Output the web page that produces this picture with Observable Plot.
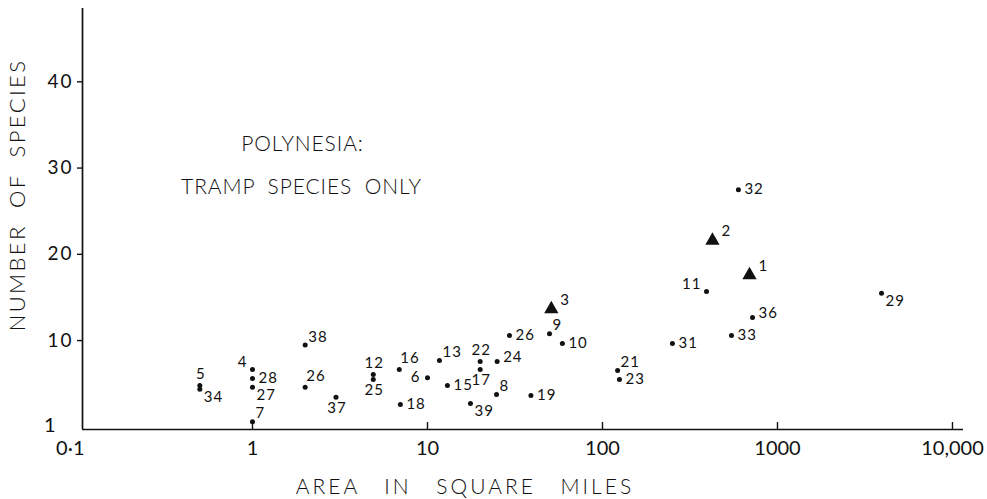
<!DOCTYPE html>
<html>
<head>
<meta charset="utf-8">
<script src="https://cdn.jsdelivr.net/npm/d3@7"></script>
<script src="https://cdn.jsdelivr.net/npm/@observablehq/plot@0.6"></script>
<style>
  html, body { margin: 0; padding: 0; background: #fff; }
  #chart svg { display: block; }
  .ptlabel text { letter-spacing: 1px; }
  .ytick text { letter-spacing: 2px; }
  .ytitle text { letter-spacing: 2.4px; word-spacing: 8px; }
  .xtitle text { letter-spacing: 3px; word-spacing: 16px; }
  .anno text { letter-spacing: 0.9px; word-spacing: 6px; }
</style>
</head>
<body>
<div id="chart"></div>
<script>
// ---- data ----
const islandIds = ["1","2","3","4","5","6","7","8","9","10","11","12","13","15","16","17","18","19","21","22","23","24","25","26","26","27","28","29","31","32","33","34","36","37","38","39"];
const areaSqMiles = [692, 425, 51, 1.0, 0.5, 10, 1.0, 24.8, 49.8, 59, 393, 4.9, 11.7, 13.0, 6.9, 20, 7.0, 39, 122, 20, 125, 25, 4.9, 2.0, 29.4, 1.0, 1.0, 3930, 251, 598, 546, 0.5, 720, 3.0, 2.0, 17.6];
const speciesCount = [17.6, 21.6, 13.65, 6.64, 4.8, 5.7, 0.6, 3.74, 10.8, 9.65, 15.7, 6.06, 7.7, 4.8, 6.64, 6.64, 2.6, 3.63, 6.52, 7.57, 5.5, 7.57, 5.5, 4.6, 10.6, 4.6, 5.6, 15.5, 9.65, 27.5, 10.6, 4.35, 12.67, 3.43, 9.5, 2.7];
const markerKind = ["triangle","triangle","triangle","dot","dot","dot","dot","dot","dot","dot","dot","dot","dot","dot","dot","dot","dot","dot","dot","dot","dot","dot","dot","dot","dot","dot","dot","dot","dot","dot","dot","dot","dot","dot","dot","dot"];
const labelSide = ["tri","tri","tri","nw","n","w","ne","ne","ne","e","nw","n","ne","e","nne","s","e","e","ne","n","e","ene","s","nne","e","se","e","se","e","e","e","se","ene","s","ne","se"];

const xTicks = [1, 10, 100, 1000, 10000];
const xTickLabels = ["1", "10", "100", "1000", "10,000"];
const xOriginLabel = "0·1";
const yTicks = [10, 20, 30, 40];
const yBottomLabel = "1";
const xDomain = [0.1068, 11560];
const yDomain = [-0.31, 48.5];

const xTitle = "AREA IN SQUARE MILES";
const yTitle = "NUMBER OF SPECIES";
const annoLine1 = "POLYNESIA:";
const annoLine2 = "TRAMP SPECIES ONLY";

// ---- build table ----
const points = islandIds.map((id, i) => ({
  id, area: areaSqMiles[i], species: speciesCount[i], kind: markerKind[i], side: labelSide[i]
}));

const ink = "#111";
const font = "Lato, 'Noto Sans', sans-serif";

const placements = {
  e:   {dx: 6,  dy: 0,   textAnchor: "start"},
  ene: {dx: 6,  dy: -4,  textAnchor: "start"},
  ne:  {dx: 3,  dy: -8,  textAnchor: "start"},
  nne: {dx: 1,  dy: -11, textAnchor: "start"},
  n:   {dx: 1,  dy: -11, textAnchor: "middle"},
  nw:  {dx: -5, dy: -7,  textAnchor: "end"},
  w:   {dx: -7, dy: 0,   textAnchor: "end"},
  se:  {dx: 4,  dy: 8,   textAnchor: "start"},
  s:   {dx: 1,  dy: 11,  textAnchor: "middle"},
  tri: {dx: 9,  dy: -9,  textAnchor: "start"}
};

const labelMarks = Object.entries(placements).map(([side, p]) =>
  Plot.text(points.filter(d => d.side === side), {
    x: "area", y: "species", text: "id",
    dx: p.dx, dy: p.dy, textAnchor: p.textAnchor, lineAnchor: "middle",
    fontSize: 15, fill: ink, className: "ptlabel"
  })
);

const chart = Plot.plot({
  width: 987,
  height: 499,
  marginLeft: 82,
  marginRight: 24,
  marginTop: 8,
  marginBottom: 70,
  style: {fontFamily: font, background: "#fff", color: ink},
  x: {type: "log", domain: xDomain},
  y: {domain: yDomain},
  marks: [
    // axis lines
    Plot.ruleX([xDomain[0]], {stroke: ink, strokeWidth: 1.7}),
    Plot.ruleY([yDomain[0]], {stroke: ink, strokeWidth: 1.7}),
    // y axis ticks & labels
    Plot.axisY(yTicks, {tickSize: 5, tickPadding: 4, fontSize: 19, label: null, stroke: ink, strokeWidth: 1.4, className: "ytick"}),
    Plot.text([yBottomLabel], {frameAnchor: "bottom-left", text: d => d, dx: -27, dy: -4, textAnchor: "end", lineAnchor: "middle", fontSize: 20, fill: ink}),
    // x axis ticks (pointing inward) & labels
    Plot.ruleX(xTicks, {insetTop: 414, stroke: ink, strokeWidth: 1.4}),
    Plot.axisX(xTicks, {tickSize: 0, tickPadding: 11, fontSize: 20, label: null,
      tickFormat: d => xTickLabels[xTicks.indexOf(d)]}),
    Plot.text([xOriginLabel], {frameAnchor: "bottom-left", text: d => d, dx: 2, dy: 19, textAnchor: "end", lineAnchor: "middle", fontSize: 20, fill: ink}),
    // axis titles
    Plot.text([yTitle], {frameAnchor: "left", text: d => d, rotate: -90, dx: -65, dy: -24, textAnchor: "middle", lineAnchor: "middle", fontSize: 22, fontWeight: 300, fill: ink, className: "ytitle"}),
    Plot.text([xTitle], {frameAnchor: "bottom", text: d => d, dx: -58, dy: 58, textAnchor: "middle", lineAnchor: "middle", fontSize: 21, fontWeight: 300, fill: ink, className: "xtitle"}),
    // annotation
    Plot.text([annoLine1], {frameAnchor: "top-left", text: d => d, dx: 220, dy: 136, textAnchor: "middle", lineAnchor: "middle", fontSize: 21, fontWeight: 300, fill: ink, className: "anno"}),
    Plot.text([annoLine2], {frameAnchor: "top-left", text: d => d, dx: 219, dy: 179, textAnchor: "middle", lineAnchor: "middle", fontSize: 21, fontWeight: 300, fill: ink, className: "anno"}),
    // data
    Plot.dot(points.filter(d => d.kind === "dot"), {x: "area", y: "species", r: 2.5, fill: ink, stroke: "none"}),
    Plot.dot(points.filter(d => d.kind === "triangle"), {x: "area", y: "species", symbol: "triangle", r: 5.3, fill: ink, stroke: "none"}),
    ...labelMarks
  ]
});

document.getElementById("chart").appendChild(chart);
</script>
</body>
</html>
